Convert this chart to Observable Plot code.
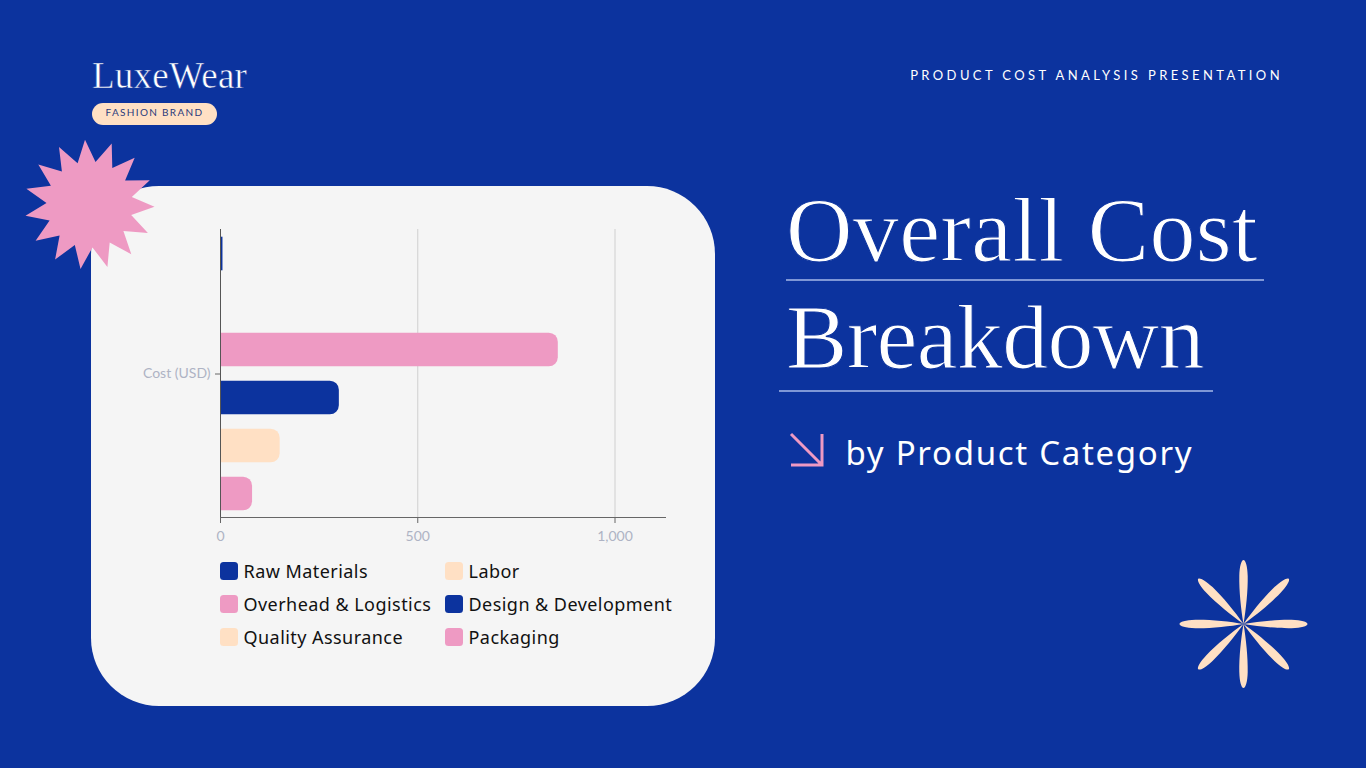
<!DOCTYPE html>
<html>
<head>
<meta charset="utf-8">
<script src="https://cdn.jsdelivr.net/npm/d3@7"></script>
<script src="https://cdn.jsdelivr.net/npm/@observablehq/plot@0.6"></script>
<style>
  html, body { margin: 0; padding: 0; width: 1366px; height: 768px; overflow: hidden; background: #0C339E; }
  .abs { position: absolute; white-space: nowrap; }
  #card { left: 91px; top: 186px; width: 624px; height: 520px; background: #F5F5F5; border-radius: 68px; }
  #chart { left: 91px; top: 186px; }
  .swatch { position: absolute; width: 18px; height: 18px; border-radius: 3.5px; }
  .legend-label { position: absolute; font-family: "Noto Sans", sans-serif; font-size: 18px; letter-spacing: 0.45px; color: #111; line-height: 20px; }
  .title { font-family: "Liberation Serif", serif; color: #fff; font-size: 92px; line-height: 100px; -webkit-text-stroke: 1.1px #0C339E; }
  .rule { height: 2px; background: #7F97D6; }
</style>
</head>
<body>
<div id="card" class="abs"></div>
<div id="chart" class="abs"></div>
<div id="legend"></div>

<div class="abs" style="left:92px;top:56px;font-family:'Liberation Serif',serif;font-size:37px;line-height:40px;letter-spacing:0.25px;color:#fff;-webkit-text-stroke:0.5px #0C339E;">LuxeWear</div>
<div class="abs" style="left:92px;top:103px;width:125px;height:22px;border-radius:11px;background:#FFE0C4;color:#2A3A7C;font-family:Lato,sans-serif;font-size:10px;letter-spacing:1.32px;line-height:19px;text-align:center;">FASHION BRAND</div>
<div class="abs" style="right:83px;top:66px;font-family:Lato,sans-serif;font-size:13px;letter-spacing:3.4px;line-height:18px;color:#fff;">PRODUCT COST ANALYSIS PRESENTATION</div>

<div class="abs title" style="left:786px;top:180px;letter-spacing:0.35px;">Overall Cost</div>
<div class="abs rule" style="left:786px;top:279px;width:478px;"></div>
<div class="abs title" style="left:786px;top:287px;letter-spacing:-0.7px;">Breakdown</div>
<div class="abs rule" style="left:779px;top:390px;width:434px;"></div>
<div class="abs" style="left:845.5px;top:430px;font-family:'Noto Sans',sans-serif;font-size:33px;letter-spacing:1.7px;line-height:46px;color:#fff;">by Product Category</div>

<svg class="abs" style="left:0;top:0;" width="1366" height="768" id="deco"></svg>

<script>
const categories = ["Raw Materials", "Labor", "Overhead & Logistics", "Design & Development", "Quality Assurance", "Packaging"];
const costs = [5, 0, 855, 300, 150, 80];
const barColors = ["#0C339E", "#FFE0C4", "#EE9AC3", "#0C339E", "#FFE0C4", "#EE9AC3"];
const groupLabel = "Cost (USD)";
const xTicks = [0, 500, 1000];

const rows = categories.map((category, i) => ({category, cost: costs[i], group: groupLabel}));
const barOptions = {x: "cost", y: "category", fy: "group", fill: "category", dx: 0.5, dy: 0.5};

const plot = Plot.plot({
  width: 624,
  height: 360,
  marginLeft: 129,
  marginRight: 50,
  marginTop: 43,
  marginBottom: 29,
  style: {background: "transparent", fontFamily: "Lato, sans-serif", fontSize: "14px"},
  x: {domain: [0, 1128], axis: null},
  y: {domain: categories, axis: null, paddingInner: 0.3, paddingOuter: 0.15, round: false},
  fy: {domain: [groupLabel], padding: 0, axis: null},
  color: {domain: categories, range: barColors},
  marks: [
    Plot.gridX(xTicks, {stroke: "#CFCFCF", strokeOpacity: 1, strokeWidth: 1}),
    Plot.barX(rows.filter(d => d.cost >= 20), {...barOptions, rx2: 9}),
    Plot.barX(rows.filter(d => d.cost < 20), barOptions),
    Plot.frame({anchor: "left", stroke: "#555"}),
    Plot.frame({anchor: "bottom", stroke: "#666"}),
    Plot.axisX({ticks: xTicks, tickFormat: d3.format(","), tickSize: 6, tickPadding: 8, stroke: "#666", color: "#AEB3C4", label: null, anchor: "bottom"}),
    Plot.axisFy({anchor: "left", tickSize: 5, tickPadding: 5, dy: 0.5, stroke: "#666", color: "#AEB3C4", label: null})
  ]
});
document.getElementById("chart").appendChild(plot);

// Legend (HTML, below the plot)
const legend = document.getElementById("legend");
const legendCols = [220, 445];
const legendRows = [562, 595, 628];
categories.forEach((c, i) => {
  const left = legendCols[i % 2], top = legendRows[Math.floor(i / 2)];
  const s = document.createElement("div");
  s.className = "swatch";
  s.style.cssText = `left:${left}px;top:${top}px;background:${barColors[i]}`;
  legend.appendChild(s);
  const t = document.createElement("div");
  t.className = "legend-label abs";
  t.style.cssText = `left:${left + 23.5}px;top:${top - 1}px`;
  t.textContent = c;
  legend.appendChild(t);
});

// Decorations
const ns = "http://www.w3.org/2000/svg";
const deco = document.getElementById("deco");
function add(tag, attrs) {
  const el = document.createElementNS(ns, tag);
  for (const k in attrs) el.setAttribute(k, attrs[k]);
  deco.appendChild(el);
  return el;
}
// starburst
const spikes = 15, cx = 89.5, cy = 204.5, rOut = 65, rIn = 43, rot = -94;
let pts = [];
for (let i = 0; i < spikes * 2; i++) {
  const a = (rot + i * 180 / spikes) * Math.PI / 180;
  const r = i % 2 ? rIn : rOut;
  pts.push((cx + r * Math.cos(a)).toFixed(1) + "," + (cy + r * Math.sin(a)).toFixed(1));
}
add("polygon", {points: pts.join(" "), fill: "#EE9AC3"});
// arrow
add("path", {d: "M791 434 L822 465 M822 434 V465 H791", fill: "none", stroke: "#EE9AC3", "stroke-width": 3});
// flower
for (let i = 0; i < 8; i++) {
  add("path", {
    d: "M0 0 C-2.5 -14 -4.5 -34 -4.2 -48 C-4 -58 -2 -64 0 -64 C2 -64 4 -58 4.2 -48 C4.5 -34 2.5 -14 0 0 Z",
    fill: "#FFE0C4",
    transform: `translate(1243.5 624) rotate(${i * 45})`
  });
}
</script>
</body>
</html>
